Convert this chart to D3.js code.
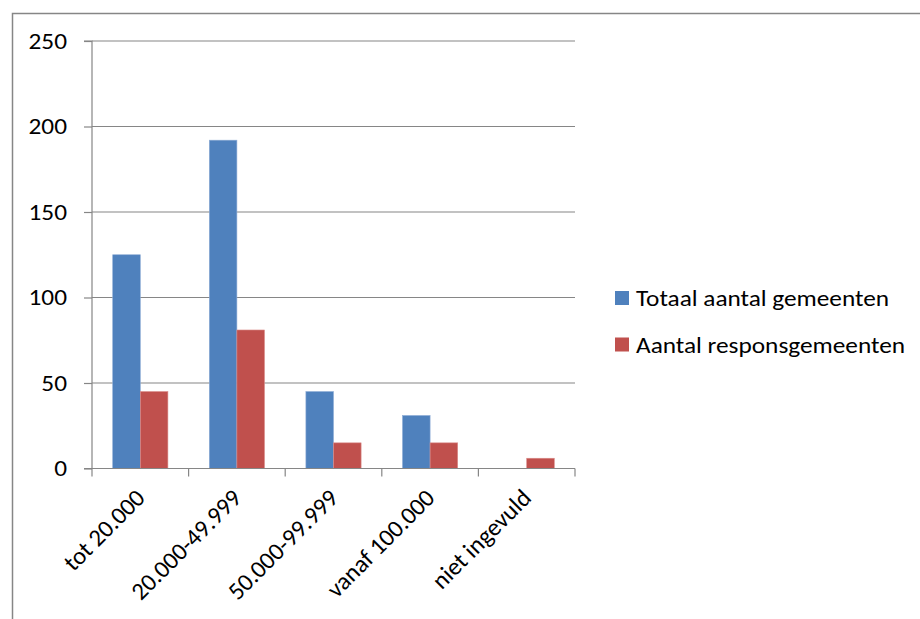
<!DOCTYPE html>
<html>
<head>
<meta charset="utf-8">
<script src="https://cdn.jsdelivr.net/npm/d3@7"></script>
<style>
  html, body { margin: 0; padding: 0; background: #fff; }
  svg { display: block; }
  text { font-family: Carlito, Calibri, Lato, "Open Sans", sans-serif; fill: #000; }
</style>
</head>
<body>
<svg id="chart" width="920" height="619"></svg>
<script>
// Gemeenten per inwonersklasse
const categories = ["tot 20.000", "20.000-49.999", "50.000-99.999", "vanaf 100.000", "niet ingevuld"];
const seriesNames = ["Totaal aantal gemeenten", "Aantal responsgemeenten"];
const totaal = [125, 192, 45, 31, 0];
const respons = [45, 81, 15, 15, 6];
const yTicks = [0, 50, 100, 150, 200, 250];
const colors = ["#4F81BD", "#C0504D"];
const strokes = ["#8EACD6", "#DA8C8A"];

const series = [totaal, respons];

const svg = d3.select("#chart");
const axisColor = "#868686";
const fontSize = 23;
const sx = 1.1; // slightly wide lettering for horizontal text

// frame around the chart
svg.append("rect")
  .attr("x", 12.5).attr("y", 13.5)
  .attr("width", 1000).attr("height", 700)
  .attr("fill", "none").attr("stroke", axisColor).attr("stroke-width", 1.5);

const plot = { left: 92, right: 575, top: 41, bottom: 468.5 };

const x = d3.scaleBand().domain(categories).range([plot.left, plot.right]).paddingInner(0).paddingOuter(0);
// Excel gap width 150%: bars take 2 of 3.5 bar-widths in each band
const barW = x.bandwidth() / 3.5;
const y = d3.scaleLinear().domain([0, 250]).range([plot.bottom, plot.top]);

// gridlines
svg.append("g")
  .selectAll("line")
  .data(yTicks.filter(d => d > 0))
  .join("line")
  .attr("x1", plot.left).attr("x2", plot.right)
  .attr("y1", d => y(d)).attr("y2", d => y(d))
  .attr("stroke", axisColor).attr("stroke-width", 1.2);

// bars
categories.forEach((c, i) => {
  series.forEach((s, k) => {
    const v = s[i];
    if (v <= 0) return;
    const bx = x(c) + (x.bandwidth() - 2 * barW) / 2 + k * barW;
    svg.append("rect")
      .attr("x", bx).attr("y", y(v))
      .attr("width", barW).attr("height", y(0) - y(v))
      .attr("fill", colors[k])
      .attr("stroke", strokes[k]).attr("stroke-width", 0.6);
  });
});

// y axis
const yAxis = d3.axisLeft(y).tickValues(yTicks).tickSize(8).tickPadding(17).tickFormat(d3.format("d"));
const gy = svg.append("g").attr("transform", `translate(${plot.left},0)`).call(yAxis);
gy.select(".domain").attr("stroke", axisColor).attr("stroke-width", 1.2).attr("d", `M-8,${plot.bottom}H0V${plot.top}H-8`);
gy.selectAll(".tick line").attr("stroke", axisColor).attr("stroke-width", 1.2);
gy.selectAll(".tick text")
  .attr("font-size", fontSize).attr("font-family", null).attr("fill", "#000")
  .attr("x", -25 / sx).attr("transform", `scale(${sx},1)`);

// x axis
const xAxis = d3.axisBottom(x).tickSize(0).tickFormat(() => "");
const gx = svg.append("g").attr("transform", `translate(0,${plot.bottom})`).call(xAxis);
gx.select(".domain").attr("stroke", axisColor).attr("stroke-width", 1.2).attr("d", `M${plot.left},0H${plot.right}`);
gx.selectAll(".tick").remove();
// tick marks at category boundaries
const bounds = categories.map(c => x(c)).concat([x(categories[categories.length - 1]) + x.bandwidth()]);
gx.selectAll("line.bound")
  .data(bounds)
  .join("line")
  .attr("class", "bound")
  .attr("x1", d => d).attr("x2", d => d)
  .attr("y1", 0).attr("y2", 8)
  .attr("stroke", axisColor).attr("stroke-width", 1.2);

// rotated category labels
svg.append("g")
  .selectAll("text")
  .data(categories)
  .join("text")
  .attr("transform", d => `translate(${x(d) + x.bandwidth() / 2 + 6},${plot.bottom + 31}) rotate(-45)`)
  .attr("text-anchor", "end")
  .attr("font-size", 24.5)
  .text(d => d);

// legend
const legend = svg.append("g").attr("transform", "translate(615,291)");
seriesNames.forEach((name, k) => {
  const row = legend.append("g").attr("transform", `translate(0,${k * 46.5})`);
  row.append("rect").attr("x", 0).attr("y", 0).attr("width", 14).attr("height", 14).attr("fill", colors[k]);
  row.append("text")
    .attr("transform", `translate(21,15) scale(${sx},1)`)
    .attr("font-size", fontSize).text(name);
});
</script>
</body>
</html>
